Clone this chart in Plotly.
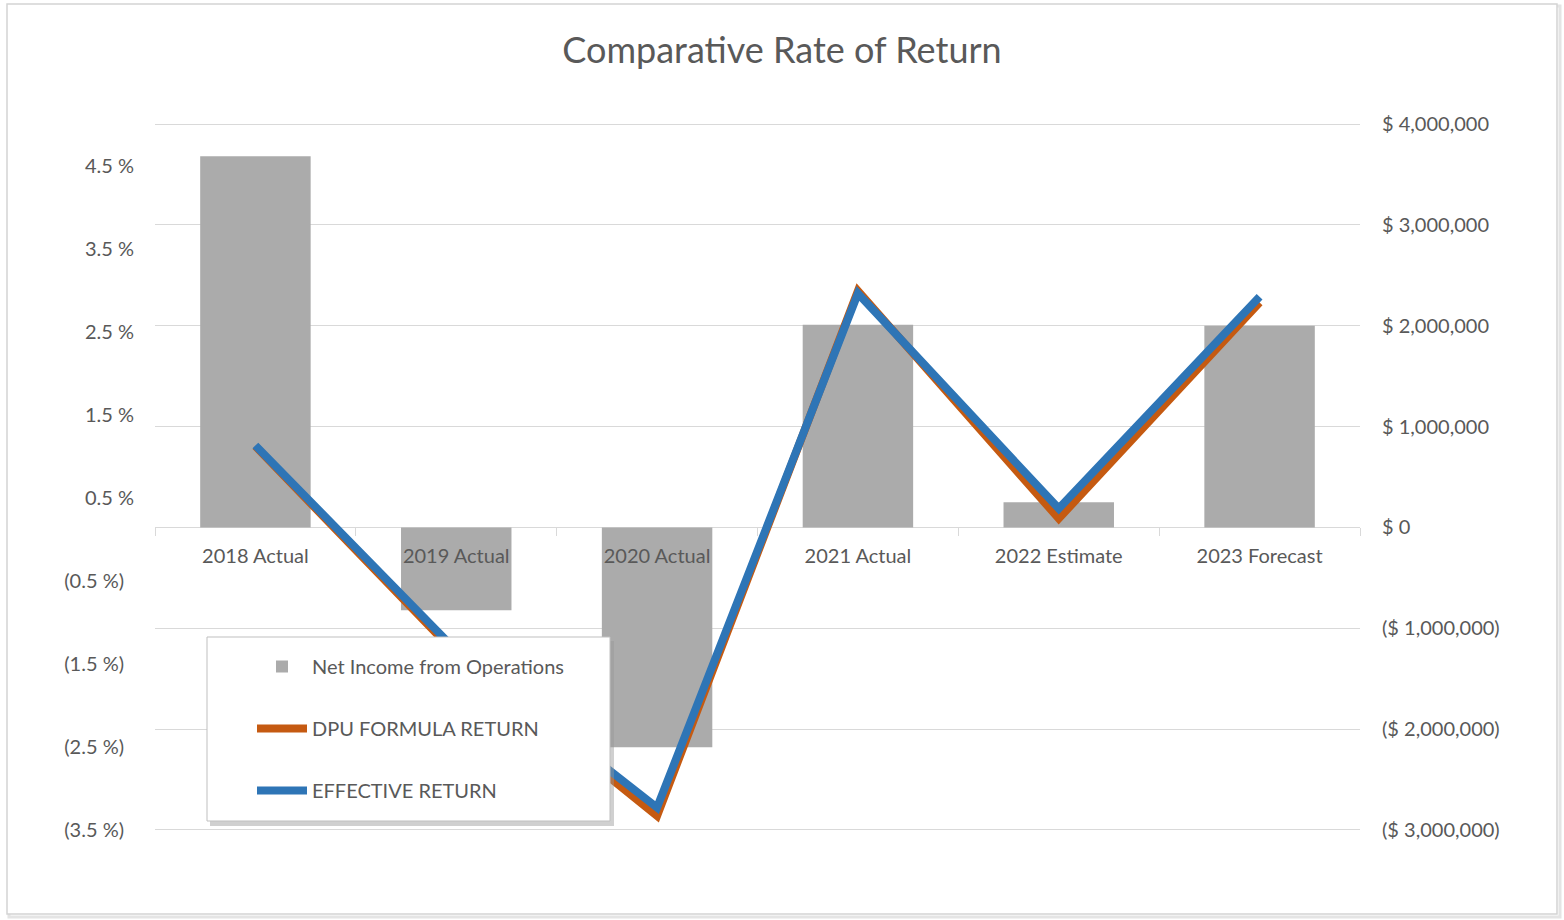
import plotly.graph_objects as go

# ---------------- data ----------------
categories = ["2018 Actual", "2019 Actual", "2020 Actual", "2021 Actual",
              "2022 Estimate", "2023 Forecast"]
net_income = [3680000, -820000, -2180000, 2010000, 250000, 2000000]
dpu_formula_return = [1.12, -1.38, -3.33, 2.99, 0.25, 2.85]
effective_return = [1.13, -1.34, -3.23, 2.96, 0.37, 2.92]

pct_tickvals = [-3.5, -2.5, -1.5, -0.5, 0.5, 1.5, 2.5, 3.5, 4.5]
pct_ticktext = ["(3.5 %)\u2002", "(2.5 %)\u2002", "(1.5 %)\u2002", "(0.5 %)\u2002",
                "0.5 %", "1.5 %", "2.5 %", "3.5 %", "4.5 %"]
usd_tickvals = [-3000000, -2000000, -1000000, 0, 1000000, 2000000, 3000000, 4000000]
usd_ticktext = ["($ 3,000,000)", "($ 2,000,000)", "($ 1,000,000)", "$ 0",
                "$ 1,000,000", "$ 2,000,000", "$ 3,000,000", "$ 4,000,000"]

# ---------------- layout geometry (pixels) ----------------
W, H = 1564, 920
PL, PR, PT, PB = 155, 1360, 123, 831
FONT = "Lato"
TXT = "#595959"
GRID = "#d9d9d9"

USD_RANGE = [-3010000, 4010000]
PCT_RANGE = [-3.512, 5.012]


def fx(px):
    return (px - PL) / (PR - PL)


def fy(py):
    return (PB - py) / (PB - PT)


fig = go.Figure()

fig.add_trace(go.Bar(
    x=categories, y=net_income, name="Net Income from Operations",
    marker=dict(color="#ababab", line=dict(width=0)),
    yaxis="y", legendgroup="g1",
))
fig.add_trace(go.Scatter(
    x=categories, y=dpu_formula_return, name="DPU FORMULA RETURN",
    mode="lines", line=dict(color="#C55A11", width=8),
    yaxis="y2", legendgroup="g2",
))
fig.add_trace(go.Scatter(
    x=categories, y=effective_return, name="EFFECTIVE RETURN",
    mode="lines", line=dict(color="#2E75B6", width=8),
    yaxis="y2", legendgroup="g3",
))

shapes = [
    # chart border with soft shadow
    dict(type="rect", xref="paper", yref="paper", layer="below",
         x0=fx(9), x1=fx(1560), y0=fy(917), y1=fy(6),
         line=dict(color="#e4e4e4", width=3), fillcolor="rgba(0,0,0,0)"),
    dict(type="rect", xref="paper", yref="paper", layer="below",
         x0=fx(7), x1=fx(1557), y0=fy(914), y1=fy(4),
         line=dict(color="#d4d4d4", width=1.5), fillcolor="white"),
    # legend box shadow + box
    dict(type="rect", xref="paper", yref="paper", layer="above",
         x0=fx(210), x1=fx(614), y0=fy(826), y1=fy(641),
         line=dict(width=0), fillcolor="rgba(150,150,150,0.45)"),
    dict(type="rect", xref="paper", yref="paper", layer="above",
         x0=fx(207), x1=fx(610), y0=fy(821), y1=fy(637),
         line=dict(color="#bfbfbf", width=1), fillcolor="white"),
]

zero_pos = (0 - USD_RANGE[0]) / (USD_RANGE[1] - USD_RANGE[0])

fig.update_layout(
    width=W, height=H,
    margin=dict(l=PL, r=W - PR, t=PT, b=H - PB, pad=0),
    paper_bgcolor="white", plot_bgcolor="rgba(0,0,0,0)",
    font=dict(family=FONT, size=20, color=TXT),
    title=dict(text="Comparative Rate of Return", x=0.5, xref="container",
               y=1 - 50 / H, yref="container", yanchor="middle", xanchor="center",
               font=dict(family=FONT, size=36, color=TXT)),
    bargap=0.45,
    showlegend=True,
    legend=dict(x=fx(252), y=fy(647), xanchor="left", yanchor="top",
                bgcolor="rgba(0,0,0,0)", borderwidth=0,
                font=dict(family=FONT, size=20, color=TXT),
                traceorder="grouped", tracegroupgap=33, itemwidth=50),
    xaxis=dict(type="category", anchor="free", position=zero_pos,
               showgrid=False, zeroline=False, showline=False,
               ticks="outside", tickson="boundaries", ticklen=8,
               tickcolor=GRID, tickwidth=1, ticklabelstandoff=15,
               tickfont=dict(family=FONT, size=20, color=TXT)),
    yaxis=dict(range=USD_RANGE, side="right",
               tickmode="array", tickvals=usd_tickvals, ticktext=usd_ticktext,
               showgrid=True, gridcolor=GRID, gridwidth=1, zeroline=False,
               showline=False, ticks="", ticklabelstandoff=21,
               tickfont=dict(family=FONT, size=20, color=TXT)),
    yaxis2=dict(range=PCT_RANGE, overlaying="y", side="left",
                tickmode="array", tickvals=pct_tickvals, ticktext=pct_ticktext,
                showgrid=False, zeroline=False, showline=False, ticks="",
                ticklabelstandoff=20,
                tickfont=dict(family=FONT, size=20, color=TXT)),
    shapes=shapes,
)

fig.write_html("out.html", config={"displayModeBar": False},
               post_script="document.body.style.margin='0';")
